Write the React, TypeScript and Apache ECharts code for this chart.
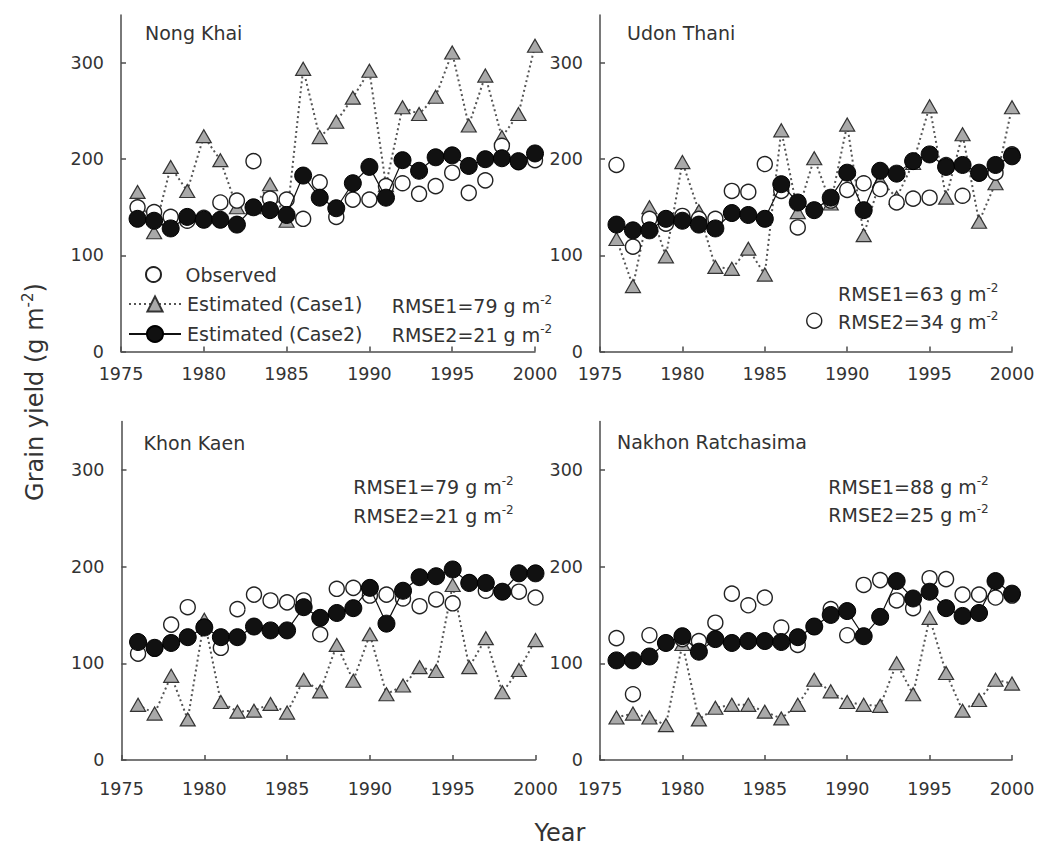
import React, { useEffect, useRef } from 'react';
import * as echarts from 'echarts';

const years = [1976, 1977, 1978, 1979, 1980, 1981, 1982, 1983, 1984, 1985, 1986, 1987, 1988, 1989, 1990, 1991, 1992, 1993, 1994, 1995, 1996, 1997, 1998, 1999, 2000];

const panelNames = ['Nong Khai', 'Udon Thani', 'Khon Kaen', 'Nakhon Ratchasima'];

const nongKhaiObserved = [150, 145, 140, 136, 139, 155, 157, 198, 159, 158, 138, 176, 140, 158, 158, 172, 175, 164, 172, 186, 165, 178, 214, 197, 199];
const nongKhaiCase1 = [166, 124, 192, 167, 224, 199, 150, 150, 174, 136, 294, 223, 239, 264, 292, 173, 254, 247, 265, 311, 235, 287, 223, 247, 318];
const nongKhaiCase2 = [138, 136, 128, 140, 137, 137, 132, 150, 147, 142, 183, 160, 149, 175, 192, 160, 199, 188, 202, 204, 193, 200, 201, 198, 206];

const udonThaniObserved = [194, 109, 138, 133, 141, 138, 138, 167, 166, 195, 167, 129, 32, 157, 168, 175, 169, 155, 159, 160, 194, 162, 185, 186, 205];
const udonThaniCase1 = [117, 68, 150, 99, 197, 146, 88, 86, 107, 80, 230, 145, 201, 154, 236, 121, 178, 160, 196, 255, 160, 226, 135, 175, 254];
const udonThaniCase2 = [132, 126, 126, 138, 136, 132, 128, 144, 142, 138, 174, 155, 147, 160, 186, 147, 188, 185, 198, 205, 192, 194, 186, 194, 203];

const khonKaenObserved = [110, 115, 140, 158, 138, 116, 156, 171, 165, 163, 165, 130, 177, 178, 170, 171, 167, 159, 166, 162, 184, 175, 174, 174, 168];
const khonKaenCase1 = [57, 48, 87, 42, 145, 60, 50, 51, 58, 49, 83, 71, 119, 82, 130, 68, 77, 96, 92, 181, 96, 126, 70, 93, 124];
const khonKaenCase2 = [122, 116, 121, 127, 137, 127, 127, 138, 134, 134, 158, 147, 152, 157, 178, 141, 175, 189, 190, 197, 183, 183, 174, 193, 193];

const nakhonObserved = [126, 68, 129, 121, 125, 123, 142, 172, 160, 168, 137, 119, 138, 156, 129, 181, 186, 165, 157, 188, 187, 171, 171, 168, 170];
const nakhonCase1 = [44, 48, 44, 36, 120, 42, 54, 57, 57, 50, 43, 57, 83, 71, 60, 57, 56, 100, 68, 147, 90, 51, 62, 83, 79];
const nakhonCase2 = [103, 103, 107, 121, 128, 112, 125, 121, 123, 123, 122, 127, 138, 150, 154, 128, 148, 185, 167, 174, 157, 149, 152, 185, 172];

const observedSets = [nongKhaiObserved, udonThaniObserved, khonKaenObserved, nakhonObserved];
const case1Sets = [nongKhaiCase1, udonThaniCase1, khonKaenCase1, nakhonCase1];
const case2Sets = [nongKhaiCase2, udonThaniCase2, khonKaenCase2, nakhonCase2];

const rmse1 = [79, 63, 79, 88];
const rmse2 = [21, 34, 21, 25];

const yTicks = [0, 100, 200, 300];
const xMin = 1975;
const xMax = 2000;
const yMax = 350;

const FONT = '"DejaVu Sans", Verdana, sans-serif';
const TEXT = '#333';
const AXIS = '#4d4d4d';

const gridBoxes = [
  { left: 121, top: 15, width: 414, height: 336.5 },
  { left: 600, top: 15, width: 412, height: 336.5 },
  { left: 121.5, top: 421.5, width: 414, height: 338.5 },
  { left: 600, top: 421.5, width: 412, height: 338.5 },
];
const xLabelMargin = [13, 13, 20, 20];
const titlePos = [[145, 33], [627, 33], [143.5, 442.5], [617, 441.5]];
const rmsePos = [[391.7, 305.5, 335], [838, 294, 321.8], [353.3, 487.3, 516.3], [828.3, 486.5, 515]];

export default function App() {
  const ref = useRef<HTMLDivElement>(null);
  useEffect(() => {
    if (!ref.current) return;
    const chart = echarts.init(ref.current, null, { renderer: 'svg' });

    const xAxis = gridBoxes.map((_, i) => ({
      type: 'value',
      gridIndex: i,
      min: xMin,
      max: xMax,
      interval: 5,
      axisLine: { show: true, lineStyle: { color: AXIS, width: 1.5 } },
      axisTick: { show: true, inside: true, length: 5, lineStyle: { color: AXIS, width: 1.5 } },
      axisLabel: { fontSize: 17.5, color: TEXT, fontFamily: FONT, margin: xLabelMargin[i], formatter: (v: number) => String(v) },
      splitLine: { show: false },
    }));
    const yAxis = gridBoxes.map((_, i) => ({
      type: 'value',
      gridIndex: i,
      min: 0,
      max: yMax,
      interval: 100,
      axisLine: { show: true, lineStyle: { color: AXIS, width: 1.5 } },
      axisTick: { show: true, inside: true, length: 5, lineStyle: { color: AXIS, width: 1.5 }, customValues: yTicks },
      axisLabel: { fontSize: 17.5, color: TEXT, fontFamily: FONT, margin: 17, customValues: yTicks, formatter: (v: number) => String(v) },
      splitLine: { show: false },
    }));

    const series: any[] = [];
    for (let p = 0; p < 4; p++) {
      series.push({
        type: 'line',
        name: 'Estimated (Case1)',
        xAxisIndex: p,
        yAxisIndex: p,
        data: years.map((y, i) => [y, case1Sets[p][i]]),
        symbol: 'triangle',
        symbolSize: [15, 13],
        showAllSymbol: true,
        lineStyle: { type: [2, 3], width: 2, color: '#555' },
        itemStyle: { color: '#a9a9a9', borderColor: '#333', borderWidth: 1.2 },
        silent: true,
        z: 2,
      });
      series.push({
        type: 'scatter',
        name: 'Observed',
        xAxisIndex: p,
        yAxisIndex: p,
        data: years.map((y, i) => [y, observedSets[p][i]]),
        symbol: 'circle',
        symbolSize: 15,
        itemStyle: { color: '#fff', borderColor: '#222', borderWidth: 1.4, opacity: 1 },
        silent: true,
        z: 3,
      });
      series.push({
        type: 'line',
        name: 'Estimated (Case2)',
        xAxisIndex: p,
        yAxisIndex: p,
        data: years.map((y, i) => [y, case2Sets[p][i]]),
        symbol: 'circle',
        symbolSize: 17,
        showAllSymbol: true,
        lineStyle: { type: 'solid', width: 1.2, color: '#111' },
        itemStyle: { color: '#111', borderColor: '#000', borderWidth: 1 },
        silent: true,
        z: 4,
      });
    }

    const legendBase = {
      orient: 'vertical',
      left: 128,
      padding: 0,
      itemWidth: 52,
      selectedMode: false,
      textStyle: { fontSize: 19, color: TEXT, fontFamily: FONT, padding: [0, 0, 0, 1] },
    };
    const legend = [
      { ...legendBase, left: 145, top: 272.5 - 7.5, itemHeight: 15, data: ['Observed'], textStyle: { ...legendBase.textStyle, lineHeight: 15 } },
      { ...legendBase, top: 304 - 9.5, itemHeight: 19, data: ['Estimated (Case1)'], textStyle: { ...legendBase.textStyle, lineHeight: 19 } },
      { ...legendBase, top: 334 - 10, itemHeight: 20, data: ['Estimated (Case2)'], textStyle: { ...legendBase.textStyle, lineHeight: 20 } },
    ];

    const rich = {
      n: { fontSize: 19, fontFamily: FONT, fill: TEXT, color: TEXT, lineHeight: 24 },
      s: { fontSize: 12, fontFamily: FONT, fill: TEXT, color: TEXT, verticalAlign: 'top', lineHeight: 14 },
    };

    const graphic: any[] = [];
    panelNames.forEach((name, i) => {
      graphic.push({
        type: 'text',
        x: titlePos[i][0],
        y: titlePos[i][1],
        silent: true,
        style: { text: name, fontSize: 19, fontFamily: FONT, fill: TEXT, verticalAlign: 'middle', align: 'left' },
      });
      graphic.push({
        type: 'text',
        x: rmsePos[i][0],
        y: rmsePos[i][1],
        silent: true,
        style: { text: `{n|RMSE1=${rmse1[i]} g m}{s|-2}`, rich, verticalAlign: 'middle', align: 'left' },
      });
      graphic.push({
        type: 'text',
        x: rmsePos[i][0],
        y: rmsePos[i][2],
        silent: true,
        style: { text: `{n|RMSE2=${rmse2[i]} g m}{s|-2}`, rich, verticalAlign: 'middle', align: 'left' },
      });
    });
    const richBig = {
      n: { fontSize: 24, fontFamily: FONT, fill: TEXT, color: TEXT, lineHeight: 30 },
      s: { fontSize: 15, fontFamily: FONT, fill: TEXT, color: TEXT, verticalAlign: 'top', lineHeight: 17 },
    };
    graphic.push({
      type: 'text',
      x: 35,
      y: 392,
      rotation: Math.PI / 2,
      silent: true,
      style: { text: '{n|Grain yield (g m}{s|-2}{n|)}', rich: richBig, align: 'center', verticalAlign: 'middle' },
    });
    graphic.push({
      type: 'text',
      x: 560,
      y: 833,
      silent: true,
      style: { text: 'Year', fontSize: 24, fontFamily: FONT, fill: TEXT, align: 'center', verticalAlign: 'middle' },
    });

    chart.setOption({
      animation: false,
      backgroundColor: '#fff',
      grid: gridBoxes.map((g) => ({ ...g, containLabel: false })),
      xAxis,
      yAxis,
      legend,
      series,
      graphic,
    });
    return () => chart.dispose();
  }, []);
  return <div ref={ref} style={{ position: 'absolute', left: 0, top: 0, width: 1038, height: 850 }} />;
}
